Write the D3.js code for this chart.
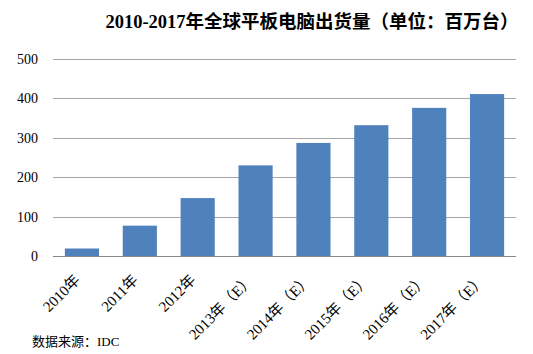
<!DOCTYPE html>
<html lang="zh">
  <head>
    <meta charset="utf-8">
    <title>全球平板电脑出货量</title>
    <script src="https://cdn.jsdelivr.net/npm/d3@7"></script>
    <style>
    body{margin:0;background:#fff;}
    svg text{font-family:"Liberation Serif","Noto Sans CJK SC",serif;fill:#000;}
    .axis path,.axis line{stroke:none;}
    .axis text{font-size:14px;}
    .grid line{stroke:#a6a6a6;stroke-width:1px;}
    </style>
  </head>
  <body>
    <svg></svg>
    <script>
      var years=["2010年","2011年","2012年","2013年（E）","2014年（E）","2015年（E）","2016年（E）","2017年（E）"];
      var shipments=[19,77,147,230,287,332,376,411];
      var yTicks=[0,100,200,300,400,500];

      var width=533,height=354;
      var plotLeft=53,plotRight=516,plotTop=59,plotBottom=256;

      var svg=d3.select("svg").attr("width",width).attr("height",height);

      var x=d3.scaleBand().domain(years).range([plotLeft,plotRight]).paddingInner(0.41).paddingOuter(0.205);
      var y=d3.scaleLinear().domain([0,500]).range([plotBottom,plotTop]);

      // gridlines
      svg.append("g").attr("class","grid")
         .selectAll("line").data(yTicks.slice(1)).enter().append("line")
         .attr("x1",plotLeft).attr("x2",plotRight)
         .attr("y1",function(d){return Math.round(y(d))+0.5;})
         .attr("y2",function(d){return Math.round(y(d))+0.5;});

      svg.selectAll("rect.bar").data(shipments).enter().append("rect")
         .attr("class","bar")
         .attr("x",function(d,i){return x(years[i]);})
         .attr("width",x.bandwidth())
         .attr("y",function(d){return y(d);})
         .attr("height",function(d){return y(0)-y(d);})
         .attr("fill","#4f81bd");

      // baseline
      svg.append("line")
         .attr("x1",plotLeft).attr("x2",plotRight)
         .attr("y1",Math.round(y(0))+0.5).attr("y2",Math.round(y(0))+0.5)
         .attr("stroke","#888").attr("stroke-width",1);

      var yAxis=d3.axisLeft(y).tickValues(yTicks).tickSize(0).tickPadding(15);
      svg.append("g").attr("class","axis")
         .attr("transform","translate("+plotLeft+",0)")
         .call(yAxis);

      var xAxis=d3.axisBottom(x).tickSize(0).tickPadding(0);
      var xg=svg.append("g").attr("class","axis x")
         .attr("transform","translate(0,"+(plotBottom+10)+")")
         .call(xAxis);
      xg.selectAll("text")
         .style("font-size","15px")
         .attr("text-anchor","end")
         .attr("dy","0")
         .attr("transform","translate(-1,15) rotate(-45)");

      svg.append("text")
         .attr("x",312).attr("y",28)
         .attr("text-anchor","middle")
         .style("font-size","18.5px")
         .style("font-weight","bold")
         .text("2010-2017年全球平板电脑出货量（单位：百万台）");

      svg.append("text")
         .attr("x",32).attr("y",346)
         .style("font-size","13px")
         .text("数据来源：IDC");
    </script>
  </body>
</html>
